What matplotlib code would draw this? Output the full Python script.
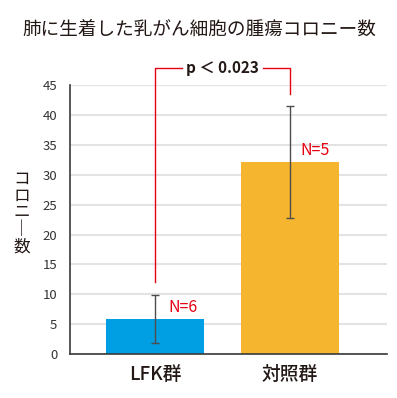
import matplotlib
matplotlib.use('Agg')
import matplotlib.pyplot as plt

plt.rcParams['font.family'] = ['Noto Sans CJK JP', 'DejaVu Sans']

groups = ['LFK群', '対照群']
means = [5.9, 32.1]
errs = [4.0, 9.4]
n_labels = ['N=6', 'N=5']
bar_colors = ['#009fe3', '#f5b52e']
p_text = 'p ＜ 0.023'
yticks = [0, 5, 10, 15, 20, 25, 30, 35, 40, 45]

dark = '#231815'
red = '#e60012'

fig = plt.figure(figsize=(3.97, 3.98), dpi=100)
ax = fig.add_axes([0.176, 0.1106, 0.799, 0.6754])

x = range(len(groups))
ax.bar(x, means, width=0.726, color=bar_colors, zorder=2)
ax.errorbar(x, means, yerr=errs, fmt='none', ecolor='#4d4d4d',
            elinewidth=1.0, capsize=3.2, capthick=1.0, zorder=3)

ax.set_xlim(-0.63, 1.72)
ax.set_ylim(0, 45)
ax.set_yticks(yticks)
ax.set_xticks(list(x))
ax.set_xticklabels(groups, fontsize=13.5, color=dark, fontweight='medium')
ax.tick_params(axis='y', length=0, pad=9, labelsize=9.5, labelcolor='#333333')
ax.tick_params(axis='x', length=0, pad=8)
ax.grid(axis='y', color='#e3e3e3', linewidth=1.5, zorder=0)
ax.set_axisbelow(True)
for s in ['top', 'right']:
    ax.spines[s].set_visible(False)
for s in ['left', 'bottom']:
    ax.spines[s].set_color('#3a3a3a')
    ax.spines[s].set_linewidth(1.2)

# N labels
ax.text(0.1, means[0] + 1.9, n_labels[0], color=red, fontsize=11.5,
        ha='left', va='center')
ax.text(1.08, means[1] + 2.0, n_labels[1], color=red, fontsize=11.5,
        ha='left', va='center')

# significance bracket
yb = 47.8
ax.plot([0, 0, 0.2], [12, yb, yb], color=red, lw=1.0, clip_on=False)
ax.plot([0.8, 1, 1], [yb, yb, 43.6], color=red, lw=1.0, clip_on=False)
ax.text(0.5, yb, p_text, ha='center', va='center', fontsize=11,
        fontweight='bold', color=dark, clip_on=False)

# y label, stacked vertically
fig.text(0.054, 0.465, '\n'.join(['コ', 'ロ', 'ニ', '｜', '数']),
         ha='center', va='center', fontsize=12, color=dark, linespacing=1.0)

fig.text(0.502, 0.925, '肺に生着した乳がん細胞の腫瘍コロニー数',
         ha='center', va='center', fontsize=13.4, color=dark)

fig.savefig('out.png', dpi=100)
